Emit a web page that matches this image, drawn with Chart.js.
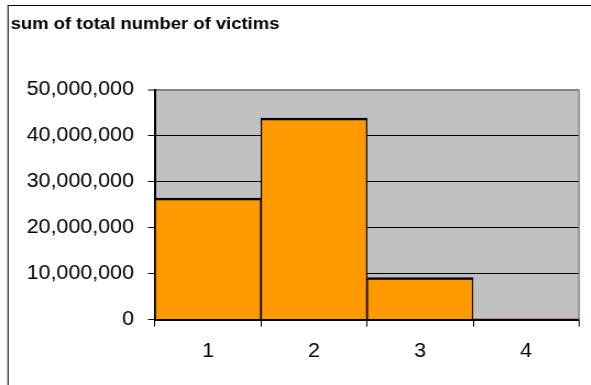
<!DOCTYPE html>
<html>
<head>
<meta charset="utf-8">
<script src="https://cdn.jsdelivr.net/npm/chart.js@4.4.0/dist/chart.umd.min.js"></script>
<style>
  html, body { margin: 0; padding: 0; background: #fff; overflow: hidden; }
  /* the sheet was exported slightly wide, so stretch the canvas horizontally */
  #wrap { width: 537px; height: 385px; transform: scaleX(1.1); transform-origin: 0 0; }
</style>
</head>
<body>
<div id="wrap"><canvas id="victimsChart" width="537" height="385"></canvas></div>
<script>
const categories = ["1", "2", "3", "4"];
const victims = [26400000, 43800000, 9100000, 150000];
const yTickValues = [0, 10000000, 20000000, 30000000, 40000000, 50000000];

const FONT = "'Liberation Sans', Arial, sans-serif";

// grey plot background, outer frame and the grey right edge of the plot
const plotDecor = {
  id: 'plotDecor',
  beforeDraw(chart) {
    const { ctx, chartArea: a } = chart;
    ctx.save();
    ctx.fillStyle = '#fff';
    ctx.fillRect(0, 0, chart.width, chart.height);
    ctx.fillStyle = '#c0c0c0';
    ctx.fillRect(a.left, a.top, a.right - a.left, a.bottom - a.top);
    ctx.strokeStyle = '#000';
    ctx.lineWidth = 1;
    ctx.strokeRect(7.3, 5.5, chart.width + 20, chart.height + 20);
    ctx.restore();
  },
  beforeDatasetsDraw(chart) {
    const { ctx, chartArea: a } = chart;
    ctx.save();
    ctx.strokeStyle = '#808080';
    ctx.lineWidth = 1.5;
    ctx.beginPath();
    ctx.moveTo(a.right, a.top);
    ctx.lineTo(a.right, a.bottom);
    ctx.stroke();
    ctx.restore();
  }
};

const ctx = document.getElementById("victimsChart").getContext("2d");
new Chart(ctx, {
  type: "bar",
  data: {
    labels: categories,
    datasets: [{
      data: victims,
      backgroundColor: "#ff9900",
      borderColor: "#000",
      borderWidth: { top: 2.5, left: 1.2, right: 1.2, bottom: 0 },
      borderSkipped: false,
      barPercentage: 1,
      categoryPercentage: 1
    }]
  },
  options: {
    responsive: false,
    animation: false,
    layout: { padding: { left: 9.7, right: 10.6, top: 0, bottom: 0 } },
    plugins: {
      legend: { display: false },
      tooltip: { enabled: false },
      title: {
        display: true,
        text: "sum of total number of victims",
        align: "start",
        color: "#000",
        font: { family: FONT, size: 16.8, weight: "bold" },
        padding: { top: 14.5, bottom: 55 }
      }
    },
    scales: {
      x: {
        grid: { offset: true, drawOnChartArea: false, tickLength: 7, tickColor: "#000", tickWidth: 1 },
        border: { display: true, color: "#000", width: 2 },
        ticks: { color: "#000", font: { family: FONT, size: 19.5 }, padding: 13.8, maxRotation: 0 },
        afterFit(scale) { scale.height = 65.5; }
      },
      y: {
        min: 0,
        max: 50000000,
        afterBuildTicks(scale) { scale.ticks = yTickValues.map(v => ({ value: v })); },
        grid: {
          color: c => (c.tick && c.tick.value === 50000000 ? "#808080" : "#000"),
          lineWidth: c => (c.tick && c.tick.value === 50000000 ? 2 : 1),
          tickLength: 6.4,
          tickColor: "#000",
          tickWidth: 1
        },
        border: { display: true, color: "#000", width: 2 },
        ticks: {
          color: "#000",
          font: { family: FONT, size: 19.5 },
          padding: 12.7,
          callback: v => v.toLocaleString("en-US")
        },
        afterFit(scale) { scale.width = 131.2; }
      }
    }
  },
  plugins: [plotDecor]
});
</script>
</body>
</html>
